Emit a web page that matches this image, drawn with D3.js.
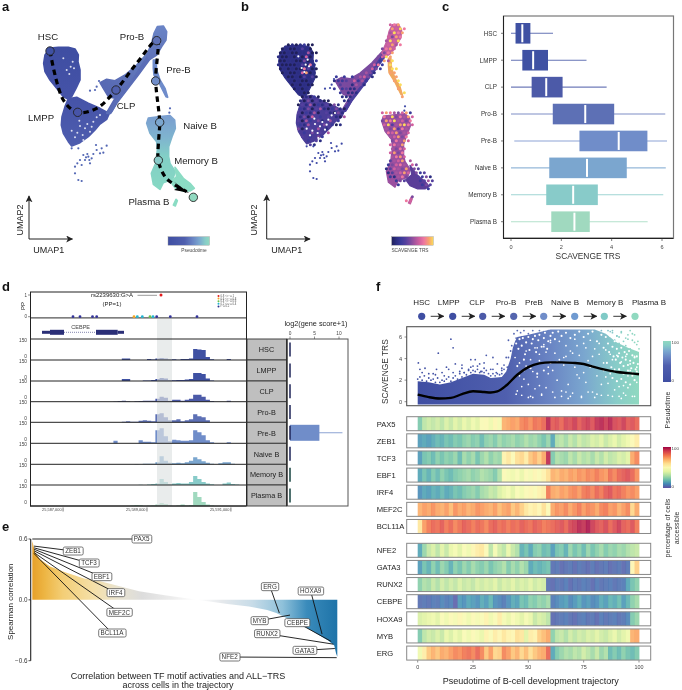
<!DOCTYPE html>
<html><head><meta charset="utf-8">
<script src="https://cdnjs.cloudflare.com/ajax/libs/d3/7.8.5/d3.min.js"></script>
<style>html,body{margin:0;padding:0;background:#fff}svg{display:block;filter:blur(.3px)}text{font-family:"Liberation Sans",Arial,sans-serif;fill:#222}</style>
</head><body><svg id="c" width="682" height="690" viewBox="0 0 682 690"></svg>
<script>
// ---------- DATA ----------
const stages=["HSC","LMPP","CLP","Pro-B","Pre-B","Naive B","Memory B","Plasma B"];
const stageColors=["#3f51a3","#3f51a3","#4c5aa8","#5d70b5","#708dc9","#7ba6cf","#88cbc9","#a0d9bf"];
const ptStops=[0,40,60,75,90,100];
const ptColors=["#3f4ea2","#4f5fae","#6a85c4","#7aa6cf","#88cdc8","#90d9c0"];
// UMAP regions
const regHSC=[[150,144],[175,142],[205,142],[225,147],[235,165],[234,185],[240,210],[240,240],[228,265],[215,290],[205,298],[190,290],[170,265],[150,240],[135,215],[131,190],[135,165]];
const regLMPP=[[205,296],[230,292],[265,310],[300,325],[328,340],[320,358],[300,372],[285,390],[265,410],[240,428],[215,438],[205,425],[190,400],[184,375],[186,350],[195,320]];
const regCLP=[[300,248],[320,238],[345,242],[375,225],[410,195],[440,162],[450,155],[440,175],[410,215],[385,260],[355,300],[335,335],[322,335],[345,295],[325,290],[310,265]];
const regBand=[[320,340],[400,235],[445,165],[455,170],[415,225],[350,310],[332,340]];
const regProB=[[462,100],[472,80],[490,78],[500,95],[498,120],[485,140],[470,165],[450,178],[440,165],[455,130]];
const regPreB=[[460,180],[468,180],[470,210],[480,240],[495,265],[503,292],[498,290],[478,250],[462,225],[460,205]];
const regNaive=[[440,370],[445,354],[480,350],[510,347],[524,360],[526,385],[516,410],[506,440],[506,470],[510,490],[526,515],[518,538],[490,548],[480,568],[460,553],[454,520],[467,490],[472,450],[470,425],[450,400]];
const regPlasma=[[525,502],[535,515],[550,535],[570,550],[583,565],[570,573],[548,573],[525,563],[512,545],[530,530]];
const regTiny=[[520,615],[528,598],[532,602],[526,618]];
const umapOutliers=[[265,470],[255,480],[270,490],[250,465],[240,480],[262,462],[275,475],[245,495],[232,490],[225,500],[225,520],[235,540],[245,543],[290,450],[305,445],[320,437],[310,458],[288,435],[300,460],[215,445],[235,445],[270,272],[285,270],[297,243],[290,260],[510,325],[508,338],[258,472],[268,480],[280,462]];
const umapHoles=[[200,210],[212,200],[222,205],[208,222],[190,175],[218,185],[240,378],[255,385],[232,398],[262,372],[248,405],[280,365],[225,412],[270,395],[238,362],[290,352],[250,420],[215,392],[275,380],[300,345]];
const trajU=[150,190,233,290,348,410,470,467,479,476,475,495,520,560];
const trajV=[153,300,337,325,270,190,122,243,367,420,481,530,552,575];
const nodeNames=["HSC","LMPP","CLP","Pro-B","Pre-B","Naive B","Memory B","Plasma B"];
const nodeU=[150,233,348,470,467,479,475,580];
const nodeV=[153,337,270,122,243,367,481,592];
const nodeCol=["#3f51a3","#4754a8","#5060ae","#5f72b8","#708dc9","#7ba6cf","#88cbc9","#90d9c0"];
// panel b: TRS level per cell (0-9), rows of [firstColumn, levels]
const trsRows=[
[[28,"678"]],[[28,"8697"]],[[28,"5978"]],[[27,"6487"]],[[27,"5969"]],
[[2,"0101200"],[27,"6857"]],[[1,"01001310"],[26,"4786"]],[[0,"0010011500"],[26,"478"]],
[[0,"100102060"],[25,"4698"]],[[0,"0011004012"],[25,"285"],[28,"9"]],[[0,"1000013071"],[24,"672"],[28,"9"]],
[[0,"0101007300"],[23,"642"],[28,"99"]],[[1,"010016801"],[22,"541"],[28,"88"]],[[2,"00103130"],[14,"2.2.2"],[20,"5641"],[29,"8"]],
[[3,"101001"],[14,"122346252"],[29,"89"]],[[3,"010100"],[15,"3.41541"],[30,"9"]],[[4,"0101"],[14,"2.2311"],[30,"8"]],
[[5,"100"],[15,"2.111"],[31,"9"]],[[6,"01020"],[16,"111"],[31,"8"]],[[5,"10403100"],[16,"11"]],
[[5,"03150213041"]],[[5,"214035102410"]],[[5,"302150.31041"],[26,"68754682"]],[[5,"1406.2.3.105"],[26,"75947586"]],
[[5,"3052.41.5.2"],[26,"48795647"]],[[5,"215.3.4.201"],[26,"69358976"]],[[5,"40.3.5.1"],[27,"548375"]],[[6,"2.4.3.5"],[27,"768456"]],
[[6,"3.2.42"],[28,"56847"]],[[7,"2.31"],[28,"47586"]],[[8,"31"],[28,"6758"]],[[28,"5476"]],[[28,"6847"]],[[28,"5786"]],
[[28,"3568"],[33,"5"]],[[27,"24675"],[33,"64"]],[[27,"136548"],[34,"43"]],[[27,"135686"],[34,"423"]],[[28,"21574"],[35,"3241"]],
[[29,"243"],[35,"2353"]],[[30,"2"],[36,"243"]],[[37,"2"]],[],[[33,"4"]],[[32,"76"]]];
const trsLevelColors=["#20205a","#2c2e82","#3a3a9a","#54409e","#7a4a9f","#a7559f","#d1609f","#ee78a0","#f7a070","#fbdc5a"];
const baseHSC="#2f3088", baseLMPP="#4a3d98", baseCLP="#7a4a9f", baseProB="#c4609f", basePreB="#f0a860", baseNaive="#9a4f9f", basePlasma="#5a3d98";
// panel c box plots
const boxMin=[0,0,0,0,.13,0,0,0];
const boxQ1=[.18,.45,.82,1.66,2.72,1.52,1.4,1.6];
const boxMed=[.45,.88,1.40,2.95,4.28,3.02,2.47,2.52];
const boxQ3=[.77,1.47,2.05,4.1,5.42,4.6,3.45,3.13];
const boxMax=[1.67,3.0,3.8,6.13,6.2,6.15,6.05,5.43];
// panel d coverage tracks as [bin, count]
const covHSC=[[22,11],[23,11],[28,8],[29,4],[30,11],[31,15],[32,11],[33,5],[34,5],[35,2],[36,8],[37,8],[38,11],[39,82],[40,79],[41,75],[42,22],[43,5],[47,8]];
const covLMPP=[[22,15],[23,15],[27,4],[28,4],[29,8],[30,15],[31,22],[32,19],[33,8],[34,5],[35,8],[36,8],[37,11],[38,15],[39,60],[40,60],[41,52],[42,19],[43,4]];
const covCLP=[[20,2],[21,6],[22,8],[23,4],[25,4],[26,5],[27,8],[28,8],[29,8],[30,22],[31,38],[32,30],[33,8],[34,15],[35,15],[36,8],[37,15],[38,22],[39,52],[40,52],[41,38],[42,15],[43,5],[47,8]];
const covProB=[[22,4],[23,8],[24,4],[25,4],[26,11],[27,15],[28,11],[29,8],[30,60],[31,68],[32,38],[33,15],[34,15],[35,22],[36,8],[37,15],[38,22],[39,60],[40,45],[41,38],[42,15]];
const covPreB=[[20,19],[26,22],[27,11],[28,11],[29,8],[30,98],[31,112],[32,52],[33,15],[34,26],[35,22],[36,19],[37,19],[38,22],[39,98],[40,82],[41,60],[42,22],[43,8],[47,8]];
const covNaive=[[25,2],[27,4],[28,4],[29,5],[30,15],[31,60],[32,26],[33,11],[34,8],[35,11],[36,8],[37,15],[38,26],[39,52],[40,38],[41,22],[42,11],[43,5],[45,8],[46,15],[47,15],[48,4]];
const covMemory=[[26,2],[28,4],[29,8],[30,11],[31,45],[32,22],[33,8],[34,11],[35,15],[36,11],[37,11],[38,22],[39,68],[40,45],[41,22],[42,11],[43,5],[46,11],[47,19],[48,8],[49,4]];
const covPlasma=[[24,4],[25,8],[26,5],[28,2],[29,4],[30,11],[31,22],[32,15],[33,4],[35,4],[36,11],[37,4],[38,8],[39,105],[40,68],[41,30],[42,11],[43,4]];
const genomicTicks=[25587000,25589000,25591000];
const ppNavy=[73,80,92.5,96.7,156.7,170.3,197];
const geneScoreQ3=[0,0,0,0,6,0,0,0];
const geneScoreMax=[0,0,0,0,10.7,0,0,0];
const ldLegend=["0.8 < r² ≤ 1","0.6 < r² ≤ 0.8","0.4 < r² ≤ 0.6","0.2 < r² ≤ 0.4","r² ≤ 0.2"];
const ldColors=["#e41a1c","#f5a623","#6cc24a","#21b5d1","#2b2f8f"];
// panel e
const corrRank=[0,.9,2.5,5.8,11,17,22,28,35,44,54,64,71,77,80,83,88,93,97,99,99.6,100];
const corrValue=[.58,.47,.40,.33,.27,.21,.185,.14,.086,.043,0,-.04,-.066,-.1,-.13,-.175,-.24,-.33,-.40,-.45,-.53,-.56];
const tfNames=["PAX5","ZEB1","TCF3","EBF1","IRF4","MEF2C","BCL11A","ERG","MYB","HOXA9","CEBPE","RUNX2","GATA3","NFE2"];
const tfRank=[0,.55,.55,.55,.55,.55,.55,81,84.5,95,98,98.7,99.2,99.8];
const tfCorr=[.6,.53,.513,.5,.484,.467,.457,-.13,-.15,-.338,-.41,-.437,-.48,-.57];
const labelX=[425,219,267,305,347,358,336,810,779,932,892,801,914,689];
const labelY=[57,93,129,170,218,277,339,200,302,213,308,341,391,411];
// panel f
const trajLabels=["HSC","LMPP","CLP","Pro-B","PreB","Naive B","Memory B","Plasma B"];
const trajLabelX=[421.7,448.7,477,506,534,565,605,649];
const trajDotX=[421.7,452.7,482.7,513.7,543.7,574.7,604.3,635];
const trajDotCol=["#3f4ea2","#3f4ea2","#4c5aa8","#5465ae","#708dc9","#6f9ad0","#7fcac6","#90d9c0"];
const envT=[0,5,10,15,20,25,30,33,38,40,41,42,43,44,45,50,60,80,85,90,95,100];
const envTop=[1.9,1.8,1.6,1.8,2.2,2.6,2.5,2.2,2.3,2.8,3.4,4,5,5.6,6.0,6.2,6.7,6.7,6.3,5.5,5.0,4.6];
const sparseT=[.3,1,3.3,7,8.5,9.3,11,13,14,15,16,17,19,20,21,23,24,25,26,28,28.5,30,31,33,34,35.5,36,38,39,40,40.5,41,42,42.5,43,43.5,44,44.5,45,46,46.5,47,47.5,48,48.5,50,51,52,53,54,55,56,57,58,59,60,86,88,90,92,94,96,98,99.5,87,91,95,83,89,97,93,91,93,95,97,99,100,94,96,98,92,90,88];
const sparseS=[3.6,3.0,3.1,2.6,3.0,4.5,2.7,3.2,3.0,5.8,5.0,3.5,2.8,3.4,2.7,3.0,3.9,3.3,3.9,3.5,2.8,3.6,4.3,3.0,4.1,2.7,3.5,2.9,3.4,4.1,3.2,5.7,4.7,5.2,3.7,6.3,5.0,5.9,6.6,5.6,6.4,6.0,5.0,6.6,5.5,6.3,5.8,6.6,6.1,5.7,6.6,6.2,6.5,6.0,6.6,6.3,6.6,6.4,6.1,6.5,5.9,6.6,6.2,5.6,6.5,6.0,5.8,6.6,5.7,6.3,5.6,5.4,5.1,6.2,5.7,5.3,4.9,5.2,4.9,5.5,6.4,6.1,6.6];
const lowT=[0,1,2,3,4,5,6,7,8,9,10,11,12,13,14,15,16,17,18,19,20,21,22,23,24,25,26,27,28,29,30,31,32,33,34,35,36,37,38,39,2,5,8,12,16,20,24,27,30,34,38,41];
const lowS=[2.1,2.3,2.0,2.4,1.9,2.2,2.0,2.1,1.8,2.2,1.8,2.0,1.9,2.1,2.3,1.9,2.2,2.4,2.1,2.6,2.3,2.7,2.5,2.9,2.7,2.9,2.8,3.0,2.7,2.8,2.7,2.9,2.6,2.4,2.6,2.4,2.6,2.5,2.6,3.0,2.7,2.6,2.5,2.4,2.7,3.1,3.2,3.3,3.1,3.0,3.1,4.1];
const holeT=[44,45,46,47,48,49,50,51,52,53,54,55,56,57,58,59,60,61,62,63,64,65,66,67,68,69,70,71,72,73,74,75,76,77,78,79,80,81,82,83,84,85,86,87,88,89,90,91,92,93,94,95,96,97,98,99,46,49,52,55,58,61,64,67,70,73,76,79,82,85,88,91,94,97,47,51,55,59,63,67,71,75,79,83,87,91,95,99,44.5,50,56,62,68,74,80,86,92,98,48,54,60,66,72,78,84,90,96,53,65,77,89,57,69,81,93];
const holeS=[4.1,1.0,3.6,.6,2.9,4.7,1.6,3.9,.4,5.0,2.3,4.4,.7,5.3,1.3,3.2,5.5,.9,4.5,2.0,5.6,.5,3.4,5.2,1.6,4.7,.8,5.8,2.5,4.3,.4,5.4,1.8,3.8,5.7,.9,4.9,2.4,5.4,.6,3.6,4.8,1.7,4.4,.5,3.0,4.3,1.4,3.7,.8,4.2,2.4,3.5,.5,4.2,1.8,2.4,3.3,2.8,3.8,4.6,2.9,3.9,.9,4.5,2.2,5.0,3.3,4.4,2.3,3.9,3.0,.6,2.7,1.4,.5,1.5,2.6,3.7,4.2,3.2,2.7,4.2,1.6,2.6,.5,1.3,3.2,.7,.4,.6,.4,.3,.5,.4,.6,.3,.5,2.1,5.0,5.7,4.1,5.2,3.2,2.9,1.9,2.9,1.2,1.0,.9,1.1,5.1,.5,.7,1.5];
const holeUpperT=[44.5,45.5,46,47,47.5,48.5,49,50,50.5,51.5,52,53,53.5,54.5,55,56,57,57.5,58.5,59,60,61,62,63.5,65,67,69,71,73,75,77,79,81,83,84,85,86,86.5,87,88,88.5,89,89.5,90,90.5,91,91.5,92,92.5,93,93.5,94,94.5,95,95.5,96,96.5,97,97.5,98,98.5,99,99.5,85.5,87.5,89,91,93,95,97,99,45,48,51,54,57,60,88,90,92,94,96,98];
const holeUpperS=[5.4,4.9,5.8,5.2,5.9,4.4,5.5,6.0,4.8,5.4,5.8,6.1,4.6,5.7,6.2,5.1,5.9,6.4,4.9,5.6,6.1,6.4,5.8,6.5,6.1,6.4,5.9,6.2,6.5,6.0,6.3,6.5,5.6,6.2,5.0,6.0,5.4,4.6,6.1,5.1,4.2,5.6,3.9,4.9,4.2,4.5,3.6,5.0,4.1,3.3,4.6,3.9,4.4,3.4,4.7,3.8,3.1,4.3,3.6,4.1,3.0,4.2,3.5,3.6,3.2,2.8,3.0,2.6,2.9,2.4,2.8,3.3,3.9,3.1,2.6,2.9,3.6,2.2,1.9,2.1,1.8,1.6,2.0];
const lineT=[0,5,10,15,20,25,30,33,36,40,45,50,55,60,65,70,75,80,85,90,95,100];
const lineS=[.65,.42,.3,.35,.7,.97,.9,.85,.95,1.5,2.5,3.2,3.55,3.65,3.65,3.6,3.5,3.2,2.95,2.75,2.65,2.55];
const heatGroup1=["PAX5","ZEB1","TCF3","EBF1","IRF4","MEF2C","BCL11A"];
const heatGroup2=["NFE2","GATA3","RUNX2","CEBPE","HOXA9","MYB","ERG"];
const PAX5=[22,32,35,33,36,32,38,34,40,36,42,38,44,40,48,50,44,52,46,70,72,74,72,78,80,76,82,80,84,96,86,88,84,90,88,92,86,90,92,88,94,96,92,96,90,88,92,86,88,84];
const ZEB1=[12,14,12,15,18,16,20,18,22,20,24,26,22,24,18,24,26,22,28,24,26,28,24,26,30,26,28,24,20,26,14,30,32,28,34,30,36,32,34,38,36,40,34,38,42,36,40,44,50,56];
const TCF3=[12,20,22,18,24,20,24,22,26,18,28,24,28,20,26,30,24,28,26,54,58,50,60,62,56,66,70,64,72,95,22,30,28,26,32,28,34,30,32,28,34,30,36,32,34,38,36,40,72,78];
const EBF1=[14,20,16,22,18,24,20,18,22,24,26,28,24,26,30,28,26,22,30,50,46,44,48,42,50,46,52,48,54,60,70,68,72,70,74,72,76,74,78,76,80,76,74,82,78,84,86,88,84,76];
const IRF4=[10,14,12,16,14,18,14,16,20,18,22,24,26,22,28,30,34,32,38,42,46,40,48,44,50,52,48,54,56,80,72,70,74,72,76,78,74,80,82,78,84,80,86,88,82,84,80,76,78,74];
const MEF2C=[70,74,72,76,72,70,74,68,76,72,74,70,72,76,74,72,70,74,68,72,74,66,70,64,58,54,56,52,60,50,72,76,74,78,72,76,80,74,78,76,72,78,80,74,76,70,74,78,62,72];
const BCL11A=[58,74,80,84,82,86,80,84,78,82,86,84,80,84,82,78,84,86,82,84,80,84,82,86,84,82,86,84,80,82,84,86,88,84,90,92,96,94,98,92,88,86,90,84,88,92,86,84,88,80];
const NFE2=[14,26,34,38,32,40,34,42,46,40,48,44,52,56,58,50,32,46,36,32,42,34,30,16,20,14,22,24,18,20,12,20,22,16,26,20,24,18,26,20,24,28,22,26,24,28,26,30,32,34];
const GATA3=[12,20,16,24,18,26,22,16,24,20,26,22,28,24,22,26,20,24,26,30,22,28,24,30,26,14,18,16,18,20,4,5,3,4,5,3,5,4,3,5,3,4,5,3,4,5,3,5,52,64];
const RUNX2=[24,30,28,34,30,36,32,36,33,38,34,36,33,38,35,38,36,40,34,38,36,40,35,38,36,40,35,38,36,4,3,5,4,6,3,5,4,6,5,3,6,4,5,6,4,5,6,14,20,24];
const CEBPE=[4,5,4,6,5,8,6,7,2,12,10,14,12,10,15,12,17,10,8,6,10,15,13,20,18,24,22,26,24,28,6,8,11,13,8,11,15,10,12,8,10,15,12,17,15,19,12,17,24,28];
const HOXA9=[38,40,42,44,40,48,44,50,46,52,48,44,50,46,48,54,44,48,56,46,42,48,44,40,46,42,34,38,36,32,3,4,5,6,4,3,5,6,4,5,3,6,4,5,6,4,5,8,22,26];
const MYB=[22,32,36,34,38,34,42,38,44,40,48,44,50,46,42,54,48,56,52,58,54,52,60,58,40,56,54,64,68,72,24,32,34,30,36,32,36,34,38,36,40,36,34,38,42,36,40,44,70,72];
const ERG=[44,56,66,70,66,72,70,74,78,76,80,82,78,84,78,66,74,62,64,78,74,66,70,62,68,60,66,70,72,84,14,22,26,30,28,32,30,36,32,28,34,26,30,18,22,18,24,20,18,22];
const ptTicks=[0,25,50,75,100];

// ---------- HELPERS ----------
const svg=d3.select("#c"), defs=svg.append("defs");
function T(g,x,y,s,size,o={}){const t=g.append("text").attr("x",x).attr("y",y).attr("font-size",size).attr("text-anchor",o.a||"middle").text(s);
 if(o.w)t.attr("font-weight",o.w); if(o.c)t.style("fill",o.c); if(o.r!==undefined)t.attr("transform",`rotate(${o.r} ${x} ${y})`); return t;}
function L(g,x1,y1,x2,y2,c="#000",w=1){return g.append("line").attr("x1",x1).attr("y1",y1).attr("x2",x2).attr("y2",y2).attr("stroke",c).attr("stroke-width",w);}
function grad(id,stops,x1,y1,x2,y2){const g=defs.append("linearGradient").attr("id",id).attr("x1",x1).attr("y1",y1).attr("x2",x2).attr("y2",y2);
 stops.forEach(s=>g.append("stop").attr("offset",s[0]).attr("stop-color",s[1]));}
const mk=defs.append("marker").attr("id","arr").attr("viewBox","0 0 10 10").attr("refX",9).attr("refY",5).attr("markerWidth",7).attr("markerHeight",7).attr("markerUnits","userSpaceOnUse").attr("orient","auto");
mk.append("path").attr("d","M0,0L10,5L0,10L2.5,5Z").attr("fill","#222");
[["a",2,11],["b",241,11],["c",442,11],["d",2,291],["e",2,531],["f",376,291]].forEach(d=>T(svg,d[1],d[2],d[0],13,{a:"start",w:"bold",c:"#111"}));
const ptColor=d3.scaleLinear().domain(ptStops).range(ptColors);

// ---------- PANEL A ----------
const ax=d3.scaleLinear().domain([0,720]).range([0,240]), ay=d3.scaleLinear().domain([0,810]).range([0,270]);
const gA=svg.append("g");
const lineA=d3.line().x(d=>ax(d[0])).y(d=>ay(d[1])).curve(d3.curveLinearClosed);
grad("gNaive",[[0,"#7a9ed0"],[.3,"#7fb4cf"],[.55,"#82cfc6"],[1,"#86d8c3"]],0,0,0,1);
grad("gHSC",[[0,"#3f4ea2"],[1,"#4553a8"]],0,0,0,1);
grad("gLMPP",[[0,"#4553a8"],[1,"#4e5dae"]],0,0,0,1);
grad("gClp",[[0,"#657ebe"],[1,"#5362b0"]],1,0,0,1);
grad("gPro",[[0,"#6a84c6"],[1,"#5f72b8"]],0,0,0,1);
[[regHSC,"url(#gHSC)"],[regLMPP,"url(#gLMPP)"],[regCLP,"url(#gClp)"],[regBand,"#5a6db6"],[regProB,"url(#gPro)"],[regPreB,"#6f8ccb"],[regNaive,"url(#gNaive)"],[regPlasma,"#8bdcc4"],[regTiny,"#8bdcc4"]]
 .forEach(r=>gA.append("path").attr("d",lineA(r[0])).attr("fill",r[1]).attr("stroke",r[1]).attr("stroke-width",1.6).attr("stroke-linejoin","round"));
gA.selectAll(".h").data(umapHoles).join("circle").attr("cx",d=>ax(d[0])).attr("cy",d=>ay(d[1])).attr("r",1).attr("fill","#fff").attr("fill-opacity",.8);
gA.selectAll(".o").data(umapOutliers).join("circle").attr("cx",d=>ax(d[0])).attr("cy",d=>ay(d[1])).attr("r",1.1).attr("fill","#5266b4");
const traj=d3.line().x((d,i)=>ax(d)).y((d,i)=>ay(trajV[i])).curve(d3.curveCatmullRom.alpha(.5));
gA.append("path").attr("d",traj(trajU)).attr("fill","none").attr("stroke","#000").attr("stroke-width",3.2).attr("stroke-dasharray","5.5 4");
gA.append("path").attr("d",`M${ax(567)},${ay(578)}L${ax(522)},${ay(545)}L${ax(538)},${ay(560)}L${ax(522)},${ay(570)}Z`).attr("fill","#000");
gA.selectAll(".n").data(nodeNames).join("circle").attr("cx",(d,i)=>ax(nodeU[i])).attr("cy",(d,i)=>ay(nodeV[i])).attr("r",4.2).attr("fill",(d,i)=>nodeCol[i]).attr("stroke","#222").attr("stroke-width",.9);
[["HSC",48,39.5],["Pro-B",132,39.5],["Pre-B",178.5,72.5],["CLP",126,109],["LMPP",41,120.5],["Naive B",200,128.5],["Memory B",196,164],["Plasma B",149,205]].forEach(d=>T(gA,d[1],d[2],d[0],9.6));
function umapAxes(g,x0,y0,yTop,xEnd,lx,ly2x){L(g,x0,y0,x0,yTop+1,"#222",1).attr("marker-end","url(#arr)");L(g,x0,y0,xEnd,y0,"#222",1).attr("marker-end","url(#arr)");
 T(g,lx,253,"UMAP1",9);T(g,ly2x,220,"UMAP2",9,{r:-90});}
umapAxes(gA,29,239,195,72.5,48.7,23);
grad("gPt",ptStops.map((s,i)=>[s/100,ptColors[i]]),0,0,1,0);
gA.append("rect").attr("x",168).attr("y",236.7).attr("width",41.5).attr("height",8.5).attr("fill","url(#gPt)").attr("stroke","#999").attr("stroke-width",.4);
T(gA,194,252,"Pseudotime",4.8,{c:"#444"});

// ---------- PANEL B ----------
const bx=d3.scaleLinear().domain([0,720]).range([235,475]), by=d3.scaleLinear().domain([0,810]).range([-2,268]);
const gB=svg.append("g");
const lvl=d3.scaleLinear().domain(d3.range(10)).range(trsLevelColors);
const cols=d=>130+12*d, rows=d=>80+12*d;
const cells=[];trsRows.forEach((r,ri)=>r.forEach(seg=>{[...seg[1]].forEach((ch,k)=>{if(ch!==".")cells.push([seg[0]+k,ri,+ch]);});}));
const lineB=d3.line().x(d=>bx(d[0])).y(d=>by(d[1])).curve(d3.curveLinearClosed);
[[regHSC,baseHSC],[regLMPP,baseLMPP],[regCLP,baseCLP],[regBand,"#4a3f9e"],[regProB,baseProB],[regPreB,basePreB],[regNaive,baseNaive],[regPlasma,basePlasma],[regTiny,"#c4609f"]]
 .forEach(r=>gB.append("path").attr("d",lineB(r[0])).attr("fill",r[1]).attr("stroke",r[1]).attr("stroke-width",1.2).attr("stroke-linejoin","round"));
gB.selectAll(".c").data(cells.slice().sort((p,q)=>p[2]-q[2])).join("circle")
 .attr("cx",d=>bx(cols(d[0])+(d[1]%2?6:0))).attr("cy",d=>by(rows(d[1]))).attr("r",1.5).attr("fill",d=>lvl(d[2]));
gB.selectAll(".h").data(umapHoles).join("circle").attr("cx",d=>bx(d[0])).attr("cy",d=>by(d[1])).attr("r",1.1).attr("fill","#fff");
gB.selectAll(".o").data(umapOutliers).join("circle").attr("cx",d=>bx(d[0])).attr("cy",d=>by(d[1])).attr("r",1.1).attr("fill","#3d48a6");
umapAxes(gB,266.7,239,194,310,286.7,257);
grad("gTrs",trsLevelColors.map((c,i)=>[i/9,c]),0,0,1,0);
gB.append("rect").attr("x",391.7).attr("y",236.7).attr("width",41.6).attr("height",8.5).attr("fill","url(#gTrs)").attr("stroke","#999").attr("stroke-width",.4);
T(gB,410,251.5,"SCAVENGE TRS",4.8,{c:"#444"});

// ---------- PANEL C ----------
const gC=svg.append("g");
const cx=d3.scaleLinear().domain([0,6]).range([511,662]), cy=d3.scalePoint().domain(stages).range([33.3,221.7]);
gC.append("rect").attr("x",503.5).attr("y",16).attr("width",170).attr("height",222).attr("fill","none").attr("stroke","#777").attr("stroke-width",1.2);
L(gC,503.5,16,503.5,238.5,"#222",1);L(gC,503,238.5,673.5,238.5,"#222",1);
stages.forEach((s,i)=>{const y=cy(s),c=stageColors[i];
 L(gC,cx(boxMin[i]),y,cx(boxMax[i]),y,c,1.1).attr("stroke-opacity",.8);
 gC.append("rect").attr("x",cx(boxQ1[i])).attr("y",y-10.3).attr("width",cx(boxQ3[i])-cx(boxQ1[i])).attr("height",20.6).attr("fill",c);
 L(gC,cx(boxMed[i]),y-9,cx(boxMed[i]),y+9,"#fff",2);
 L(gC,501,y,503.5,y,"#444",.7);
 T(gC,497,y+2.3,s,6.3,{a:"end",c:"#333"});});
[0,2,4,6].forEach(v=>{L(gC,cx(v),238.5,cx(v),241,"#444",.7);T(gC,cx(v),249,v,5.6,{c:"#444"});});
T(gC,588,258.5,"SCAVENGE TRS",8.4,{c:"#333"});

// ---------- PANEL D ----------
const gD=svg.append("g");
const trackBottoms=[360,381,401.7,422.3,443.3,464.3,485,506];
const tracks=[covHSC,covLMPP,covCLP,covProB,covPreB,covNaive,covMemory,covPlasma];
const gx=d3.scaleLinear().domain([25586200,25591360]).range([29.5,246]);
const binBp=100, nBins=52;
tracks.forEach((tr,k)=>{const b=trackBottoms[k],yS=d3.scaleLinear().domain([0,150]).range([b,b-20]);
 const dense=d3.range(nBins).map(i=>{const f=tr.find(p=>p[0]===i);return f?f[1]:0;});
 const area=d3.area().x((d,i)=>gx(25586200+i*binBp)).y0(b).y1(d=>yS(d)).curve(d3.curveStepAfter);
 gD.append("path").attr("d",area(dense)).attr("fill",stageColors[k]);
 T(gD,27,b-18.5,"150",4.8,{a:"end",c:"#444"});T(gD,27,b-2.5,"0",4.8,{a:"end",c:"#444"});
});
gD.append("rect").attr("x",157).attr("y",319).attr("width",15).attr("height",187).attr("fill","#dfe3e3").attr("fill-opacity",.68);
L(gD,30,317.8,246,317.8,"#555",1.3);L(gD,30,339,246,339,"#222",1);
trackBottoms.forEach(b=>L(gD,30,b,246,b,"#222",1));
gD.append("rect").attr("x",30.5).attr("y",292).attr("width",216).attr("height",214).attr("fill","none").attr("stroke","#222").attr("stroke-width",1);
// PP
const ppY=d3.scaleLinear().domain([0,1]).range([316.7,295]);
L(gD,28,ppY(1),30,ppY(1),"#444",.6);L(gD,28,ppY(0),30,ppY(0),"#444",.6);T(gD,27,ppY(1)+1.5,"1",4.5,{a:"end",c:"#444"});T(gD,27,ppY(0)+1.5,"0",4.5,{a:"end",c:"#444"});
T(gD,25,306,"PP",6,{r:-90});
gD.selectAll(".pp").data(ppNavy).join("circle").attr("cx",d=>d).attr("cy",ppY(0)).attr("r",1.4).attr("fill","#34349a");
[[134,"#f5a623"],[137.3,"#21b5d1"],[142.3,"#21b5d1"],[150,"#6cc24a"],[153,"#21b5d1"]].forEach(d=>gD.append("circle").attr("cx",d[0]).attr("cy",ppY(0)).attr("r",1.4).attr("fill",d[1]));
gD.append("circle").attr("cx",161).attr("cy",ppY(1)).attr("r",1.5).attr("fill","#e41a1c");
T(gD,112,297,"rs2239630:G>A",6);T(gD,112,306,"(PP=1)",6);
L(gD,137.5,295.3,157,295.3,"#555",.6);
ldLegend.forEach((s,i)=>{gD.append("circle").attr("cx",218.5).attr("cy",296+i*2.6).attr("r",1).attr("fill",ldColors[i]);T(gD,220.5,297+i*2.6,s,2.8,{a:"start",c:"#555"});});
// gene model
const geneC="#2b2f77";
L(gD,42,332.3,124,332.3,geneC,.6).attr("stroke-dasharray","1 1");
[[42,50,3],[50,64,5],[96,117.7,5],[117.7,124,3]].forEach(d=>gD.append("rect").attr("x",d[0]).attr("y",332.3-d[2]/2).attr("width",d[1]-d[0]).attr("height",d[2]).attr("fill",geneC));
T(gD,80.7,329,"CEBPE",5.5,{c:"#444"});
genomicTicks.forEach(v=>{const x=gx(v);L(gD,x,507.5,x,511.5,"#444",.7);T(gD,x-1.5,511,d3.format(",")(v),3.9,{a:"end",c:"#444"});});
// labels column and gene score
const gsX=d3.scaleLinear().domain([0,10]).range([290,339]);
gD.append("rect").attr("x",287).attr("y",339).attr("width",61).attr("height",167).attr("fill","#fff").attr("stroke","#555").attr("stroke-width",1);
stages.forEach((s,i)=>{const b=trackBottoms[i],t=i?trackBottoms[i-1]:339,m=(t+b)/2;
 gD.append("rect").attr("x",247).attr("y",t).attr("width",39.5).attr("height",b-t).attr("fill","#bfbfbf").attr("stroke","#333").attr("stroke-width",.9);
 T(gD,266.5,m+2.8,s,7.3,{c:"#222"});
 if(geneScoreQ3[i]>0){const c=stageColors[i];
  L(gD,gsX(0),m,gsX(geneScoreMax[i]),m,c,1.1).attr("stroke-opacity",.8);
  gD.append("rect").attr("x",gsX(0)).attr("y",m-8).attr("width",gsX(geneScoreQ3[i])-gsX(0)).attr("height",16).attr("fill",c);}
 L(gD,gsX(0),m-7,gsX(0),m+7,i<6?"#1d2357":"#14423f",1.5);
});
L(gD,287,339,287,506,"#222",1);
[0,5,10].forEach(v=>{T(gD,gsX(v),335,v,4.8,{c:"#444"});L(gD,gsX(v),336.5,gsX(v),339,"#444",.6);});
T(gD,316,326,"log2(gene score+1)",7.3,{c:"#222"});

// ---------- PANEL E ----------
const gE=svg.append("g");
const ex=d3.scaleLinear().domain([0,100]).range([32.3,337.3]), ey=d3.scaleLinear().domain([-.6,.6]).range([660.7,539]);
grad("gCorr",[[0,"#e6a02a"],[.04,"#edb543"],[.1,"#f3ce76"],[.2,"#f5e0a8"],[.28,"#e9e3cf"],[.36,"#dcdcdc"],[.46,"#ededed"],[.54,"#fff"],[.62,"#e6e9ec"],[.72,"#c8dce8"],[.82,"#8fc1da"],[.9,"#3a8bbb"],[1,"#1e73a8"]],0,0,1,0);
gE.append("path").attr("d",d3.area().x(d=>ex(d)).y0(ey(0)).y1((d,i)=>ey(corrValue[i]))(corrRank)).attr("fill","url(#gCorr)");
L(gE,30.7,539,30.7,660.7,"#222",1.1);
[[.6,"0.6"],[0,"0.0"],[-.6,"−0.6"]].forEach(d=>{L(gE,28.5,ey(d[0]),30.7,ey(d[0]),"#222",.8);T(gE,27.5,ey(d[0])+2.3,d[1],6.3,{a:"end",c:"#333"});});
T(gE,13,601.7,"Spearman correlation",8,{r:-90,c:"#222"});
T(gE,178,678.5,"Correlation between TF motif activaties and ALL−TRS",9,{c:"#222"});
T(gE,178,688,"across cells in the trajectory",9,{c:"#222"});
tfNames.forEach((n,i)=>{L(gE,ex(tfRank[i]),ey(tfCorr[i]),labelX[i]/3,520+labelY[i]/3,"#111",.9);});
tfNames.forEach((n,i)=>{const g=gE.append("g");const t=T(g,labelX[i]/3,520+labelY[i]/3+2.2,n,6.3,{c:"#333"});const bb=t.node().getBBox();
 g.insert("rect","text").attr("x",bb.x-1.8).attr("y",520+labelY[i]/3-4).attr("width",bb.width+3.6).attr("height",8).attr("rx",1.5).attr("fill","#fff").attr("stroke","#555").attr("stroke-width",.8);});

// ---------- PANEL F ----------
const gF=svg.append("g");
const fx=d3.scaleLinear().domain([0,100]).range([417.7,639]), fy=d3.scaleLinear().domain([0,6]).range([401.7,337]);
trajLabels.forEach((s,i)=>T(gF,trajLabelX[i],305,s,8,{c:"#222"}));
trajDotX.forEach((x,i)=>{gF.append("circle").attr("cx",x).attr("cy",316.3).attr("r",3.6).attr("fill",trajDotCol[i]);
 if(i<7)L(gF,x+9,316.3,x+22,316.3,"#222",.9).attr("marker-end","url(#arr)");});
grad("gPtF",ptStops.map((s,i)=>[s/100,ptColors[i]]),0,0,1,0);
defs.select("#gPtF").attr("gradientUnits","userSpaceOnUse").attr("x1",fx(0)).attr("x2",fx(100)).attr("y1",0).attr("y2",0);
gF.append("path").attr("d",d3.area().x(d=>fx(d)).y0(fy(-.25)).y1((d,i)=>fy(envTop[i]))(envT)).attr("fill","url(#gPtF)");
gF.selectAll(".s").data(sparseT).join("circle").attr("cx",d=>fx(d)).attr("cy",(d,i)=>fy(sparseS[i])).attr("r",.9).attr("fill",d=>ptColor(d));
gF.selectAll(".l").data(lowT).join("circle").attr("cx",d=>fx(d)).attr("cy",(d,i)=>fy(lowS[i])).attr("r",.9).attr("fill",d=>ptColor(d));
gF.selectAll(".w").data(holeT).join("circle").attr("cx",d=>fx(d)).attr("cy",(d,i)=>fy(holeS[i])).attr("r",.85).attr("fill","#fff");
gF.selectAll(".u").data(holeUpperT).join("circle").attr("cx",d=>fx(d)).attr("cy",(d,i)=>fy(holeUpperS[i])).attr("r",1.05).attr("fill","#fff");
gF.append("path").attr("d",d3.line().x(d=>fx(d)).y((d,i)=>fy(lineS[i])).curve(d3.curveMonotoneX)(lineT)).attr("fill","none").attr("stroke","#000").attr("stroke-width",2.4);
gF.append("rect").attr("x",406.7).attr("y",326.7).attr("width",244).attr("height",79).attr("fill","none").attr("stroke","#555").attr("stroke-width",1.1);
[0,2,4,6].forEach(v=>{T(gF,402,fy(v)+2,v,5.6,{a:"end",c:"#444"});L(gF,404.5,fy(v),406.7,fy(v),"#444",.6);});
T(gF,388,371.7,"SCAVENGE TRS",8.4,{r:-90,c:"#333"});
// heat rows
const heat=d3.scaleSequential(t=>d3.interpolateSpectral(1-t)).domain([0,100]);
const rowsData=[...heatGroup1.map((n,i)=>[n,416.7+i*17.13]),...heatGroup2.map((n,i)=>[n,543.3+i*17.13])];
const heatValues={PAX5,ZEB1,TCF3,EBF1,IRF4,MEF2C,BCL11A,NFE2,GATA3,RUNX2,CEBPE,HOXA9,MYB,ERG};
rowsData.forEach(([n,y])=>{const v=heatValues[n];
 gF.append("g").selectAll("rect").data(v).join("rect").attr("x",(d,i)=>fx(i*2)).attr("y",y).attr("width",fx(2)-fx(0)+.4).attr("height",14).attr("fill",d=>heat(d)).attr("fill-opacity",.88);
 gF.append("rect").attr("x",406.7).attr("y",y).attr("width",244).attr("height",14).attr("fill","none").attr("stroke","#888").attr("stroke-width",1);
 T(gF,376.7,y+9.8,n,7.6,{a:"start",c:"#222"});});
ptTicks.forEach(v=>{T(gF,fx(v),669,v,5.4,{c:"#444"});L(gF,fx(v),660.5,fx(v),662.5,"#444",.6);});
T(gF,530.7,684,"Pseudotime of B-cell development trajectory",9,{c:"#222"});
// legends
grad("gPtV",ptStops.map((s,i)=>[s/100,ptColors[i]]),0,1,0,0);
gF.append("rect").attr("x",663).attr("y",341).attr("width",8).attr("height",41).attr("fill","url(#gPtV)");
T(gF,671.5,343.5,"100",4.4,{a:"start",c:"#444"});T(gF,671.5,382,"0",4.4,{a:"start",c:"#444"});
T(gF,670,410,"Pseudotime",7,{r:-90,c:"#333"});
grad("gHeatV",d3.range(11).map(i=>[i/10,d3.interpolateSpectral(1-i/10)]),0,1,0,0);
gF.append("rect").attr("x",663).attr("y",447).attr("width",8).attr("height",41).attr("fill","url(#gHeatV)");
T(gF,671.5,450,"100",4.4,{a:"start",c:"#444"});T(gF,671.5,488,"0",4.4,{a:"start",c:"#444"});
T(gF,670,528,"percentage of cells",7,{r:-90,c:"#333"});T(gF,678.5,528,"accessible",7,{r:-90,c:"#333"});
</script></body></html>
